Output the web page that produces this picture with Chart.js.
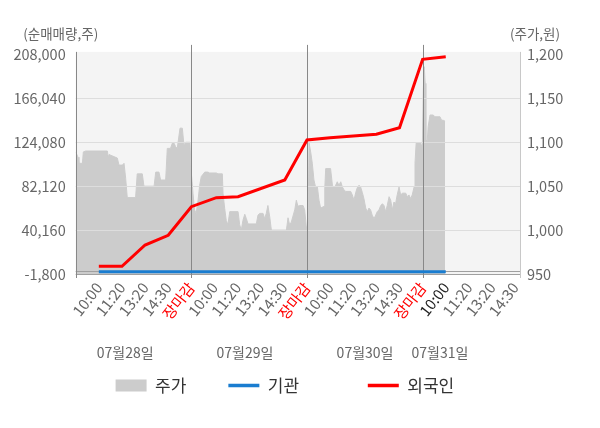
<!DOCTYPE html>
<html><head><meta charset="utf-8">
<script src="https://cdn.jsdelivr.net/npm/chart.js@4.4.1/dist/chart.umd.min.js"></script>
<style>html,body{margin:0;padding:0;background:#fff;}#wrap{width:600px;height:428px;}</style>
</head><body><div id="wrap"><canvas id="c" width="600" height="428"></canvas></div>
<script>
const FONT = "'Noto Sans CJK KR','Noto Sans',sans-serif";

const tickValues = [1,2,3,4,5,6,7,8,9,10,11,12,13,14,15,16,17,18,19];
const tickLabels = ["10:00","11:20","13:20","14:30","장마감","10:00","11:20","13:20","14:30","장마감","10:00","11:20","13:20","14:30","장마감","10:00","11:20","13:20","14:30"];
const dayBreaks = [5,10,15];
const dateLabels = ["07월28일","07월29일","07월30일","07월31일"];
const datePositions = [2.14,7.32,12.51,15.75];
const leftTicks = [-1800,40160,82120,124080,166040,208000];
const rightTicks = [950,1000,1050,1100,1150,1200];
const legendNames = ["주가","기관","외국인"];

const priceX = [0,0.1,0.14,0.29,0.33,0.43,1.37,1.41,1.44,1.8,1.87,2.02,2.09,2.16,2.23,2.59,2.66,2.88,2.95,3.39,3.46,3.6,3.67,3.89,3.96,4.1,4.18,4.25,4.32,4.39,4.51,4.61,4.68,4.76,4.94,
5.0,5.07,5.14,5.21,5.29,5.36,5.43,5.58,5.72,5.79,6.08,6.15,6.34,6.37,6.44,6.51,6.58,6.66,7.02,7.09,7.16,7.23,7.31,7.38,7.45,7.81,7.88,7.96,8.1,8.17,8.24,8.31,8.39,8.46,9.11,9.18,9.25,9.32,9.47,9.54,9.61,9.68,9.83,9.9,9.97,
10.04,10.09,10.16,10.23,10.3,10.38,10.45,10.52,10.59,10.74,10.77,10.81,11.02,11.1,11.17,11.24,11.31,11.38,11.46,11.53,11.6,11.67,11.89,11.96,12.03,12.11,12.17,12.25,12.32,12.39,12.46,12.54,12.61,12.68,12.75,12.82,12.9,12.97,13.04,13.11,13.19,13.26,13.33,13.4,13.47,13.55,13.62,13.69,13.76,13.83,13.9,13.98,14.05,14.12,14.27,14.34,14.41,14.48,14.55,14.63,14.67,14.72,14.92,14.94,
14.99,15.03,15.07,15.11,15.14,15.2,15.24,15.32,15.46,15.53,15.75,15.82,15.89,15.97];
const priceY = [1089,1083,1076,1076,1089,1090,1090,1082,1086,1082,1074,1074,1076,1059,1037,1037,1064,1064,1050,1050,1066,1066,1057,1057,1093,1093,1099,1099,1095,1093,1116,1116,1097,1100,1100,
1065,1042,1023,1019,1034,1051,1061,1066,1066,1065,1065,1064,1064,1042,1025,1011,1006,1021,1021,1006,1000,1011,1018,1013,1007,1007,1017,1019,1019,1013,1019,1028,1015,1000,1000,1014,1006,1009,1023,1034,1027,1028,1028,1023,1004,
1004,1099,1089,1076,1057,1048,1049,1034,1025,1027,1048,1070,1070,1051,1049,1051,1055,1051,1055,1049,1046,1044,1044,1040,1034,1043,1048,1051,1049,1043,1036,1025,1021,1025,1023,1017,1013,1017,1021,1023,1028,1030,1028,1021,1028,1038,1034,1023,1032,1030,1040,1049,1040,1042,1042,1038,1040,1036,1040,1049,1076,1099,1099,1095,
1099,1160,1186,1167,1102,1102,1118,1131,1131,1129,1129,1125,1125,1124];

const foreignX = [1,2,3,4,5,6.08,7.02,9.04,10,11,12,13,14,15,16];
const foreignY = [5500,5500,25900,35200,62500,71100,72100,88000,126200,128400,130000,131700,138000,203300,205800];

const instX = [1,2,3,4,5,6,7,8,9,10,11,12,13,14,15,16];
const instY = [400,400,400,400,400,400,400,400,400,400,400,400,400,400,400,400];

const COLORS = {price:'#cccccc', inst:'#1a7dd0', foreign:'#ff0000'};
const tickColor = i => (i===4||i===9||i===14) ? '#ff0000' : (i===15 ? '#222222' : '#666666');

const pairs = (xs, ys) => xs.map((x,i)=>({x:x, y:ys[i]}));

const deco = {
  id:'deco',
  beforeDatasetsDraw(chart){
    const {ctx, chartArea:a} = chart;
    ctx.save();
    ctx.fillStyle = '#f4f4f4';
    ctx.fillRect(a.left, a.top-2.5, a.right-a.left, a.bottom-a.top+2.5);
    ctx.restore();
  },
  afterDatasetDraw(chart, args){
    if (args.index !== 0) return;
    const {ctx, chartArea:a, scales} = chart;
    const ys = scales.y, xs = scales.x;
    ctx.save();
    ctx.lineWidth = 1;
    ctx.strokeStyle = '#dddddd';
    leftTicks.slice(1, leftTicks.length-1).forEach(v=>{
      const y = Math.round(ys.getPixelForValue(v))+0.5;
      ctx.beginPath(); ctx.moveTo(a.left, y); ctx.lineTo(a.right, y); ctx.stroke();
    });
    ctx.strokeStyle = '#a0a0a0';
    [0].forEach(v=>{
      const y = Math.round(ys.getPixelForValue(v))-0.5;
      ctx.beginPath(); ctx.moveTo(a.left, y); ctx.lineTo(a.right, y); ctx.stroke();
    });
    const yb = Math.round(a.bottom)+0.5;
    ctx.beginPath(); ctx.moveTo(a.left, yb); ctx.lineTo(a.right, yb); ctx.stroke();
    ctx.strokeStyle = '#888888';
    const xl = Math.round(a.left)+0.5;
    ctx.beginPath(); ctx.moveTo(xl, a.top-2.5); ctx.lineTo(xl, a.bottom+4); ctx.stroke();
    ctx.strokeStyle = '#c8c8c8';
    const xr = Math.round(a.right)+0.5;
    ctx.beginPath(); ctx.moveTo(xr, a.top-2.5); ctx.lineTo(xr, a.bottom+4); ctx.stroke();
    ctx.strokeStyle = '#888888';
    dayBreaks.forEach(v=>{
      const x = Math.round(xs.getPixelForValue(v))+0.5;
      ctx.beginPath(); ctx.moveTo(x, a.top-9.5); ctx.lineTo(x, a.bottom+4); ctx.stroke();
    });
    ctx.restore();
  },
  afterDraw(chart){
    const {ctx, chartArea:a, scales} = chart;
    ctx.save();
    ctx.fillStyle = '#666666';
    ctx.textAlign = 'center';
    ctx.textBaseline = 'middle';
    ctx.font = `13.5px ${FONT}`;
    ctx.fillText('(순매매량,주)', a.left-15, a.top-21);
    ctx.fillText('(주가,원)', a.right+15, a.top-21);
    ctx.font = `14px ${FONT}`;
    dateLabels.forEach((t,i)=>{
      ctx.fillText(t, scales.x.getPixelForValue(datePositions[i]), a.bottom+79);
    });
    ctx.restore();
  }
};

new Chart(document.getElementById('c'), {
  type:'line',
  data:{
    datasets:[
      {label:legendNames[0], data:pairs(priceX, priceY), yAxisID:'y1', borderColor:COLORS.price, borderWidth:1, backgroundColor:COLORS.price, fill:'start', pointRadius:0, tension:0, order:3},
      {label:legendNames[1], data:pairs(instX, instY), yAxisID:'y', borderColor:COLORS.inst, borderWidth:3, pointRadius:0, fill:false, tension:0, order:2},
      {label:legendNames[2], data:pairs(foreignX, foreignY), yAxisID:'y', borderColor:COLORS.foreign, borderWidth:3, pointRadius:0, fill:false, tension:0, order:1}
    ]
  },
  options:{
    responsive:false,
    animation:false,
    layout:{padding:{top:54.4, right:30.2, bottom:24, left:0}},
    plugins:{
      tooltip:{enabled:false},
      legend:{
        position:'bottom',
        labels:{
          usePointStyle:true, pointStyleWidth:31, boxHeight:12, padding:42,
          color:'#333333', font:{family:FONT, size:17},
          generateLabels:(chart)=>chart.data.datasets.map((ds,i)=>({
            text: i===1 ? ds.label+'\u00a0\u00a0\u00a0\u00a0\u00a0\u00a0\u00a0' : ds.label,
            fillStyle: ds.borderColor, strokeStyle: ds.borderColor,
            lineWidth: i===0 ? 0 : 3.5, pointStyle: i===0 ? 'rect' : 'line',
            hidden:false, datasetIndex:i, fontColor:'#333333'
          }))
        }
      }
    },
    scales:{
      x:{
        type:'linear', min:0, max:19.21,
        afterBuildTicks:s=>{ s.ticks = tickValues.map(v=>({value:v})); },
        afterFit:s=>{ s.height = 61; },
        grid:{display:false, drawTicks:false}, border:{display:false},
        ticks:{autoSkip:false, minRotation:52, maxRotation:52, padding:5,
          font:{family:FONT, size:15},
          color:c=>tickColor(c.index),
          callback:(v,i)=>tickLabels[i]}
      },
      y:{
        position:'left', min:-1800, max:208000,
        afterBuildTicks:s=>{ s.ticks = leftTicks.map(v=>({value:v})); },
        afterFit:s=>{ s.width = 75.7; },
        grid:{display:false, drawTicks:false}, border:{display:false},
        ticks:{padding:10, color:'#666666', font:{family:FONT, size:14.5},
          callback:v=>v.toLocaleString('en-US')}
      },
      y1:{
        position:'right', min:950, max:1200,
        afterBuildTicks:s=>{ s.ticks = rightTicks.map(v=>({value:v})); },
        afterFit:s=>{ s.width = 49.8; },
        grid:{display:false, drawTicks:false}, border:{display:false},
        ticks:{padding:7, color:'#666666', font:{family:FONT, size:14.5},
          callback:v=>v.toLocaleString('en-US')}
      }
    }
  },
  plugins:[deco]
});
</script></body></html>
